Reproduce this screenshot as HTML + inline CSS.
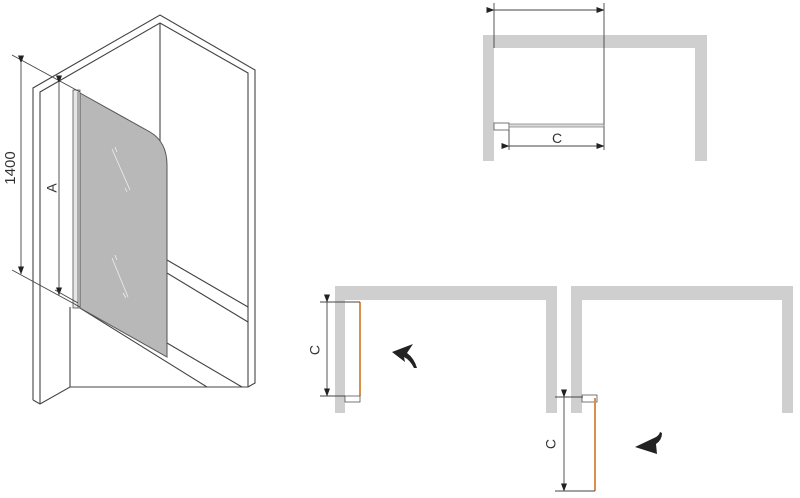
<!DOCTYPE html>
<html><head><meta charset="utf-8"><style>html,body{margin:0;padding:0;background:#fff}svg{display:block}</style></head>
<body>
<svg width="800" height="498" viewBox="0 0 800 498" xmlns="http://www.w3.org/2000/svg" font-family="Liberation Sans, sans-serif">
<defs>
<marker id="ar" markerWidth="8" markerHeight="6" refX="7.5" refY="3" orient="auto" markerUnits="userSpaceOnUse"><path d="M0,0 L8,3 L0,6 z" fill="#222"/></marker>
</defs>
<g fill="none" stroke="#444" stroke-width="1.1">
<polyline points="33,400 33,88 160,15 255,70 255,383 248,387"/>
<polyline points="40,404 40,92 160,23 248,73 248,387"/>
<line x1="160" y1="23" x2="160" y2="147"/>
<polyline points="33,400 40,404 70,387 248,387"/>
<line x1="70" y1="307" x2="70" y2="387"/>
<line x1="167" y1="260" x2="248" y2="307"/>
<line x1="167" y1="273" x2="248" y2="322"/>
<line x1="80" y1="308" x2="207" y2="387"/>
<line x1="167" y1="343" x2="242" y2="387"/>
</g>
<path d="M80,93 L150,132 Q167,142 167,165 L167,357 L80,308 Z" fill="#b8b8b8" stroke="#555" stroke-width="1"/>
<rect x="73" y="90" width="7" height="218" fill="#e6e6e6" stroke="#555" stroke-width="0.8"/>
<line x1="78" y1="92" x2="78" y2="308" stroke="#555" stroke-width="0.8"/>
<g stroke="#eee" stroke-width="0.8">
<line x1="112" y1="149" x2="130" y2="190"/><line x1="115" y1="147" x2="117" y2="152"/><line x1="125" y1="188" x2="127" y2="192"/>
<line x1="112" y1="258" x2="128" y2="297"/><line x1="115" y1="255" x2="117" y2="260"/><line x1="123" y1="293" x2="126" y2="298"/>
</g>
<g stroke="#444" stroke-width="0.9">
<line x1="12" y1="55" x2="80" y2="92"/><line x1="12" y1="270" x2="80" y2="307"/>
<line x1="21" y1="63" x2="21" y2="274" marker-start="url(#ar)" marker-end="url(#ar)"/>
<line x1="59" y1="83" x2="59" y2="295" marker-start="url(#ar)" marker-end="url(#ar)"/>
<line x1="55" y1="290" x2="78" y2="303"/>
</g>
<text x="11" y="168" font-size="15" fill="#333" text-anchor="middle" transform="rotate(-90 11 168)" dominant-baseline="middle">1400</text>
<text x="53" y="188" font-size="14" fill="#333" text-anchor="middle" transform="rotate(-90 53 188)" dominant-baseline="middle">A</text>
<path d="M483,161 V35 H707 V161 H695 V48 H494 V161 Z" fill="#cfcfcf"/>
<g stroke="#444" stroke-width="0.9">
<line x1="494" y1="3" x2="494" y2="48"/><line x1="604" y1="3" x2="604" y2="150"/>
<line x1="494" y1="10" x2="604" y2="10" marker-start="url(#ar)" marker-end="url(#ar)"/>
<line x1="509" y1="130" x2="509" y2="150"/>
<line x1="509" y1="146" x2="604" y2="146" marker-start="url(#ar)" marker-end="url(#ar)"/>
</g>
<rect x="494" y="123" width="15" height="7" fill="#fff" stroke="#555" stroke-width="0.8"/>
<rect x="509" y="124" width="95" height="3" fill="#ddd" stroke="#666" stroke-width="0.6"/>
<text x="557" y="143" font-size="14" fill="#333" text-anchor="middle">C</text>
<path d="M335,413 V286 H557 V413 H546 V300 H345 V413 Z" fill="#cfcfcf"/>
<line x1="360" y1="302" x2="360" y2="396" stroke="#d9904a" stroke-width="2"/>
<rect x="345" y="396" width="15" height="6" fill="#fff" stroke="#555" stroke-width="0.8"/>
<g stroke="#444" stroke-width="0.9">
<line x1="320" y1="302" x2="360" y2="302"/><line x1="320" y1="396" x2="345" y2="396"/>
<line x1="327" y1="302" x2="327" y2="396" marker-start="url(#ar)" marker-end="url(#ar)"/>
</g>
<text x="316" y="350" font-size="14" fill="#333" text-anchor="middle" transform="rotate(-90 316 350)" dominant-baseline="middle">C</text>
<path d="M392,352 L413,344 L407,353 Q414,358 417,368 L414,368 Q410,360 404,357 L405,362 Z" fill="#222"/>
<path d="M571,413 V286 H793 V413 H782 V300 H582 V413 Z" fill="#cfcfcf"/>
<rect x="582" y="395" width="15" height="7" fill="#fff" stroke="#555" stroke-width="0.8"/>
<line x1="595" y1="398" x2="595" y2="491" stroke="#d9904a" stroke-width="2"/>
<g stroke="#444" stroke-width="0.9">
<line x1="555" y1="397" x2="583" y2="397"/><line x1="555" y1="491" x2="595" y2="491"/>
<line x1="564" y1="397" x2="564" y2="491" marker-start="url(#ar)" marker-end="url(#ar)"/>
</g>
<text x="552" y="444" font-size="14" fill="#333" text-anchor="middle" transform="rotate(-90 552 444)" dominant-baseline="middle">C</text>
<path d="M635,447 L654,438 Q659,436 660,432 L662,433 Q662,440 656,444 L657,454 Z" fill="#222"/>
</svg>
</body></html>
